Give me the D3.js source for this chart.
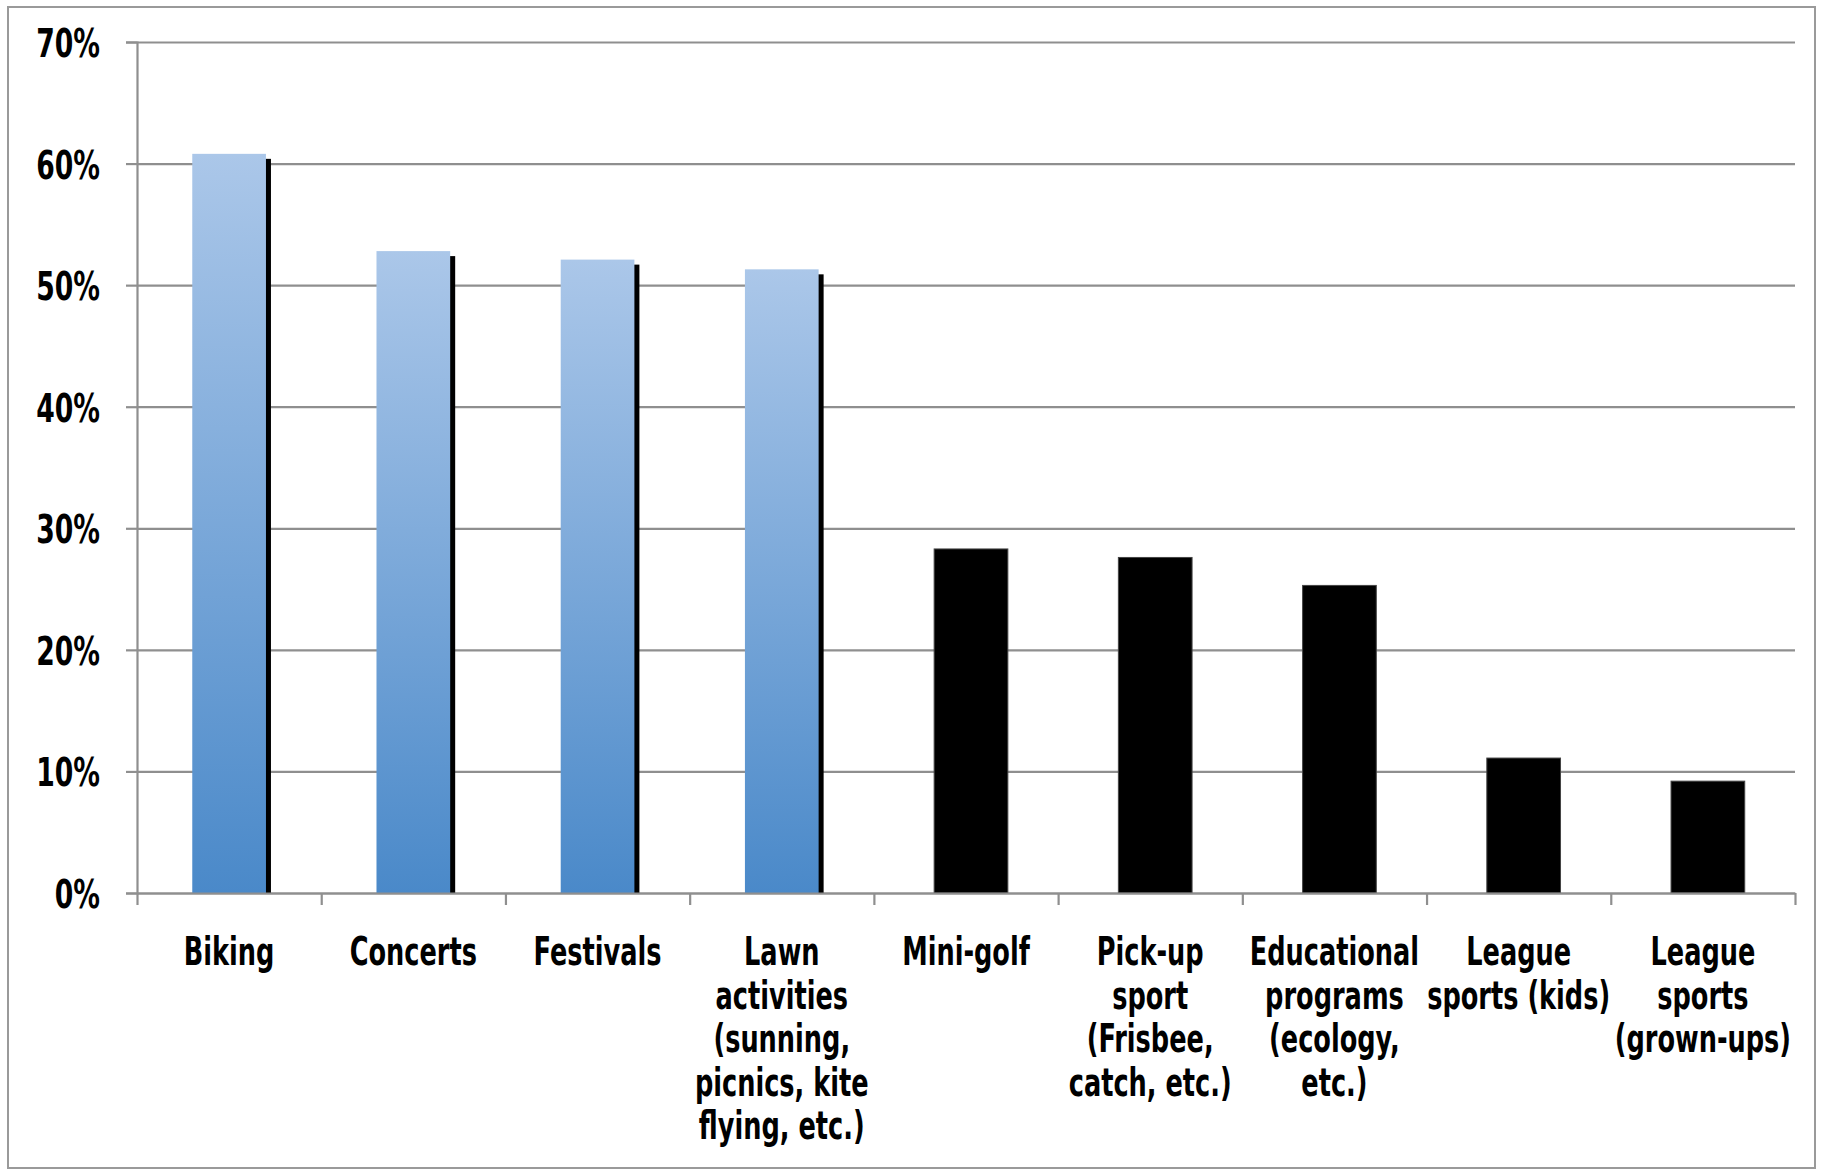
<!DOCTYPE html>
<html>
<head>
<meta charset="utf-8">
<script src="https://cdn.jsdelivr.net/npm/d3@7"></script>
<style>
  html, body { margin: 0; padding: 0; background: #fff; }
  svg { display: block; }
  text { font-family: "DejaVu Sans Condensed", "DejaVu Sans", sans-serif; font-weight: bold; fill: #000; }
</style>
</head>
<body>
<svg id="chart" width="1824" height="1173"></svg>
<script>
// ---- data ----
const categories = [
  ["Biking"],
  ["Concerts"],
  ["Festivals"],
  ["Lawn", "activities", "(sunning,", "picnics, kite", "flying, etc.)"],
  ["Mini-golf"],
  ["Pick-up", "sport", "(Frisbee,", "catch, etc.)"],
  ["Educational", "programs", "(ecology,", "etc.)"],
  ["League", "sports (kids)"],
  ["League", "sports", "(grown-ups)"]
];
const values = [60.8, 52.8, 52.1, 51.3, 28.3, 27.6, 25.3, 11.1, 9.2];
const highlighted = [true, true, true, true, false, false, false, false, false];
const yTicks = [0, 10, 20, 30, 40, 50, 60, 70];

// ---- layout ----
const svg = d3.select("#chart");
const W = 1824, H = 1173;
const plot = { left: 137, right: 1795, top: 42, bottom: 893 };
const shadowOff = 5;
const gridColor = "#8f8f8f";
const squeeze = 0.73;

const keys = categories.map((c, i) => "c" + i);
const x = d3.scaleBand().domain(keys).range([plot.left, plot.right]).paddingInner(0.6).paddingOuter(0.3);
const y = d3.scaleLinear().domain([0, 70]).range([plot.bottom, plot.top]);

// outer border
svg.append("rect").attr("x", 8).attr("y", 7).attr("width", W - 17).attr("height", H - 12)
  .attr("fill", "#fff").attr("stroke", "#9a9a9a").attr("stroke-width", 2);

// gradient
const defs = svg.append("defs");
const grad = defs.append("linearGradient").attr("id", "blueGrad")
  .attr("x1", 0).attr("y1", 0).attr("x2", 0).attr("y2", 1);
grad.append("stop").attr("offset", "0%").attr("stop-color", "#abc7e9");
grad.append("stop").attr("offset", "100%").attr("stop-color", "#4a89c9");

// gridlines
const yAxis = d3.axisLeft(y).tickValues(yTicks).tickSize(-(plot.right - plot.left)).tickFormat("");
const gGrid = svg.append("g").attr("transform", `translate(${plot.left},0)`).call(yAxis);
gGrid.select(".domain").remove();
gGrid.selectAll(".tick line").attr("stroke", gridColor).attr("stroke-width", 2.2);

// small left tick marks + y axis line
const yTickMarks = d3.axisLeft(y).tickValues(yTicks).tickSize(11).tickFormat("");
const gYT = svg.append("g").attr("transform", `translate(${plot.left},0)`).call(yTickMarks);
gYT.select(".domain").attr("stroke", gridColor).attr("stroke-width", 2.2);
gYT.selectAll(".tick line").attr("stroke", gridColor).attr("stroke-width", 2.2);

// y labels
svg.append("g").selectAll("text").data(yTicks).join("text")
  .attr("transform", d => `translate(100,${y(d) + 15}) scale(0.76,1)`)
  .attr("text-anchor", "end").attr("font-size", 39)
  .text(d => d + "%");

// shadows for highlighted bars
const data = values.map((v, i) => ({ key: keys[i], v, hi: highlighted[i], lines: categories[i] }));
svg.append("g").selectAll("rect").data(data.filter(d => d.hi)).join("rect")
  .attr("x", d => x(d.key) + shadowOff)
  .attr("y", d => y(d.v) + shadowOff)
  .attr("width", x.bandwidth())
  .attr("height", d => plot.bottom - y(d.v) - shadowOff)
  .attr("fill", "#000");

// bars
svg.append("g").selectAll("rect").data(data).join("rect")
  .attr("x", d => x(d.key) + (d.hi ? 0 : shadowOff))
  .attr("y", d => y(d.v))
  .attr("width", x.bandwidth())
  .attr("height", d => plot.bottom - y(d.v))
  .attr("fill", d => d.hi ? "url(#blueGrad)" : "#000")
  .attr("stroke", d => d.hi ? "none" : "#444")
  .attr("stroke-width", 1);

// x axis line and ticks at category boundaries
const xb = d3.scaleLinear().domain([0, categories.length]).range([plot.left, plot.right]);
const xAxis = d3.axisBottom(xb).tickValues(d3.range(categories.length + 1))
  .tickSize(12).tickSizeOuter(0).tickFormat("");
const gX = svg.append("g").attr("transform", `translate(0,${plot.bottom})`).call(xAxis);
gX.select(".domain").attr("stroke", gridColor).attr("stroke-width", 2.2);
gX.selectAll(".tick line").attr("stroke", gridColor).attr("stroke-width", 2.2);

// category labels
const lineH = 43.6;
const labels = svg.append("g").selectAll("g").data(data).join("g")
  .attr("transform", d => `translate(${x(d.key) + x.bandwidth() / 2},965) scale(${squeeze},1)`);
labels.each(function(d) {
  d3.select(this).selectAll("text").data(d.lines).join("text")
    .attr("x", 0).attr("y", (t, j) => j * lineH)
    .attr("text-anchor", "middle").attr("font-size", 39)
    .text(t => t);
});
</script>
</body>
</html>
